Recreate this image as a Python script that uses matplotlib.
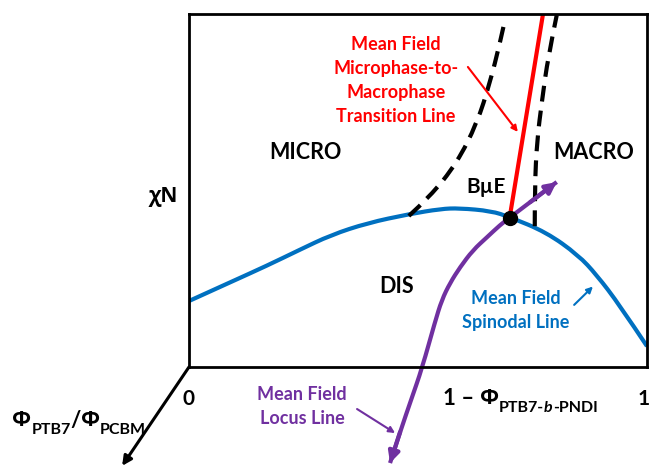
import matplotlib
matplotlib.use("Agg")
import matplotlib.pyplot as plt
from matplotlib.path import Path
from matplotlib.patches import PathPatch

plt.rcParams['font.family'] = ['Lato', 'Open Sans', 'DejaVu Sans']
plt.rcParams['font.weight'] = 'bold'

# colours
BLUE = '#0070C0'
RED = '#FF0000'
PURPLE = '#7030A0'

# mean field spinodal line (x = composition, y = chiN, both scaled 0..1)
spin_x = [0.0, 0.09, 0.17, 0.24, 0.31, 0.39, 0.48, 0.55, 0.59, 0.66, 0.70, 0.78, 0.85, 0.89, 0.94, 1.0]
spin_y = [0.187, 0.240, 0.287, 0.331, 0.374, 0.408, 0.433, 0.448, 0.450, 0.442, 0.425, 0.382, 0.317, 0.261, 0.176, 0.059]

# mean field locus line (runs out below the frame)
locus_x = [0.439, 0.461, 0.485, 0.509, 0.537, 0.552, 0.570, 0.592, 0.620, 0.651, 0.679, 0.699, 0.745, 0.788, 0.803]
locus_y = [-0.272, -0.184, -0.093, -0.003, 0.127, 0.190, 0.238, 0.283, 0.331, 0.368, 0.402, 0.422, 0.467, 0.510, 0.524]

# microphase-to-macrophase transition line
trans_x = [0.700, 0.773]
trans_y = [0.422, 1.0]

# dashed phase boundaries
left_x = [0.480, 0.526, 0.585, 0.629, 0.657, 0.679, 0.690]
left_y = [0.428, 0.482, 0.578, 0.691, 0.805, 0.918, 0.983]
right_x = [0.755, 0.755, 0.760, 0.771, 0.784, 0.803]
right_y = [0.399, 0.510, 0.643, 0.756, 0.878, 0.997]

# point where the lines meet
pt_x, pt_y = 0.700, 0.422

# third axis (drawn out of the frame corner)
diag_end = (-0.146, -0.280)

GREEK = ['Open Sans', 'DejaVu Sans']
LATIN = ['Lato', 'Open Sans', 'DejaVu Sans']


def smooth(xs, ys):
    # quadratic spline through the read points, drawn as a path
    verts = [(xs[0], ys[0])]
    codes = [Path.MOVETO]
    n = len(xs)
    for i in range(1, n - 1):
        if i == n - 2:
            end = (xs[i + 1], ys[i + 1])
        else:
            end = ((xs[i] + xs[i + 1]) / 2, (ys[i] + ys[i + 1]) / 2)
        verts += [(xs[i], ys[i]), end]
        codes += [Path.CURVE3, Path.CURVE3]
    return Path(verts, codes)


def chain(ax, x, y, parts):
    # place text pieces one after another; parts = (text, size, dy, style, family)
    s, size, dy, style, fam = parts[0]
    first = ax.text(x, y, s, fontsize=size, style=style, family=fam,
                    ha='left', va='baseline')
    prev = first
    for s, size, dy, style, fam in parts[1:]:
        prev = ax.annotate(s, xy=(1, 0), xycoords=(prev, first), xytext=(0, dy),
                           textcoords='offset points', fontsize=size, style=style,
                           family=fam, ha='left', va='bottom', annotation_clip=False)


fig = plt.figure(figsize=(6.51, 4.66), dpi=100)
ax = fig.add_axes([0.2903, 0.2124, 0.7035, 0.7575])
ax.set_xlim(0, 1)
ax.set_ylim(0, 1)
ax.set_xticks([])
ax.set_yticks([])
for s in ax.spines.values():
    s.set_linewidth(2.0)

ax.add_patch(PathPatch(smooth(spin_x, spin_y), fill=False, edgecolor=BLUE, lw=3))
ax.add_patch(PathPatch(smooth(locus_x, locus_y), fill=False, edgecolor=PURPLE, lw=3,
                       clip_on=False))
ax.plot(trans_x, trans_y, color=RED, lw=3)
ax.add_patch(PathPatch(smooth(left_x, left_y), fill=False, edgecolor='black', lw=3,
                       linestyle=(0, (3.8, 2.2)), capstyle='butt'))
ax.add_patch(PathPatch(smooth(right_x, right_y), fill=False, edgecolor='black', lw=3,
                       linestyle=(0, (3.8, 2.2)), capstyle='butt'))
ax.plot([pt_x], [pt_y], 'o', color='black', ms=10, zorder=5)

# arrow heads on the locus line
ax.annotate('', xy=(locus_x[-1], locus_y[-1]), xytext=(locus_x[-3], locus_y[-3]),
            arrowprops=dict(arrowstyle='-|>', color=PURPLE, lw=3, mutation_scale=16,
                            shrinkA=0, shrinkB=0), annotation_clip=False)
ax.annotate('', xy=(locus_x[0], locus_y[0]), xytext=(locus_x[1], locus_y[1]),
            arrowprops=dict(arrowstyle='-|>', color=PURPLE, lw=3, mutation_scale=16,
                            shrinkA=0, shrinkB=0), annotation_clip=False)

# diagonal axis
ax.annotate('', xy=diag_end, xytext=(0, 0),
            arrowprops=dict(arrowstyle='-|>', color='black', lw=2.2, mutation_scale=14,
                            shrinkA=0, shrinkB=0), annotation_clip=False)

# region labels
big = 15.5
small = 13
ax.text(0.255, 0.609, 'MICRO', fontsize=big, ha='center', va='center')
ax.text(0.884, 0.609, 'MACRO', fontsize=big, ha='center', va='center')
ax.text(0.648, 0.510, 'B\u00b5E', fontsize=15, ha='center', va='center')
ax.text(0.454, 0.229, 'DIS', fontsize=big, ha='center', va='center')

ax.text(0.714, 0.159, 'Mean Field\nSpinodal Line', fontsize=small, color=BLUE,
        ha='center', va='center', linespacing=1.5)
ax.annotate('', xy=(0.882, 0.228), xytext=(0.841, 0.176),
            arrowprops=dict(arrowstyle='-|>', color=BLUE, lw=1.5, mutation_scale=9,
                            shrinkA=0, shrinkB=0))

ax.text(0.452, 0.813, 'Mean Field\nMicrophase-to-\nMacrophase\nTransition Line',
        fontsize=small, color=RED, ha='center', va='center', linespacing=1.5)
ax.annotate('', xy=(0.718, 0.666), xytext=(0.609, 0.850),
            arrowprops=dict(arrowstyle='-|>', color=RED, lw=1.5, mutation_scale=9,
                            shrinkA=0, shrinkB=0))

ax.text(0.247, -0.113, 'Mean Field\nLocus Line', fontsize=small, color=PURPLE,
        ha='center', va='center', linespacing=1.5)
ax.annotate('', xy=(0.450, -0.187), xytext=(0.367, -0.119),
            arrowprops=dict(arrowstyle='-|>', color=PURPLE, lw=1.5, mutation_scale=9,
                            shrinkA=0, shrinkB=0), annotation_clip=False)

# axis labels
ax.text(-0.057, 0.482, '\u03c7N', fontsize=15, family=GREEK, ha='center', va='center')
ax.text(0.0, -0.108, '0', fontsize=15, ha='center', va='baseline')
ax.text(0.993, -0.108, '1', fontsize=15, ha='center', va='baseline')
chain(ax, 0.555, -0.108, [('1 \u2013 ', 16, 0, 'normal', LATIN),
                          ('\u03a6', 16, 0, 'normal', GREEK),
                          ('PTB7-', 11.5, -4, 'normal', LATIN),
                          ('b', 11.5, -4, 'italic', LATIN),
                          ('-PNDI', 11.5, -4, 'normal', LATIN)])
chain(ax, -0.386, -0.167, [('\u03a6', 16, 0, 'normal', GREEK),
                           ('PTB7', 11.5, -4, 'normal', LATIN),
                           ('/', 16, 0, 'normal', LATIN),
                           ('\u03a6', 16, 0, 'normal', GREEK),
                           ('PCBM', 11.5, -4, 'normal', LATIN)])

fig.savefig('out.png', dpi=100)
